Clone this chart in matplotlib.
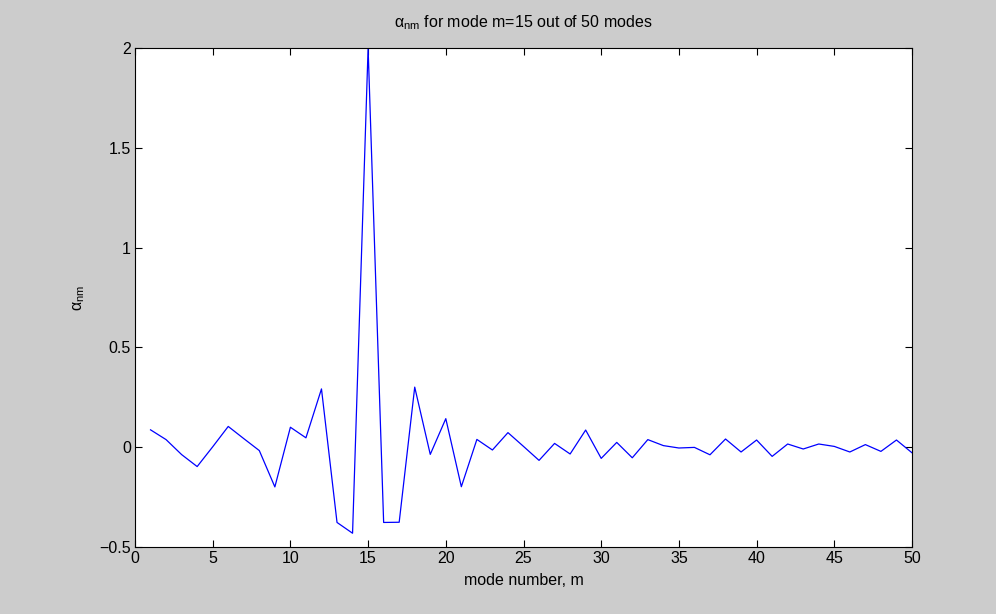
import matplotlib
matplotlib.use("Agg")
import matplotlib.pyplot as plt

modes = list(range(1, 51))
alpha = [0.087, 0.038, -0.037, -0.097, 0.002, 0.104, 0.043, -0.017, -0.199, 0.100,
         0.047, 0.292, -0.377, -0.431, 2.000, -0.377, -0.376, 0.301, -0.036, 0.143,
         -0.198, 0.039, -0.014, 0.073, 0.004, -0.066, 0.019, -0.034, 0.086, -0.056,
         0.024, -0.053, 0.038, 0.008, -0.004, -0.001, -0.038, 0.041, -0.024, 0.036,
         -0.046, 0.016, -0.009, 0.016, 0.004, -0.024, 0.013, -0.021, 0.036, -0.028]
xticks = [0, 5, 10, 15, 20, 25, 30, 35, 40, 45, 50]
yticks = [-0.5, 0, 0.5, 1, 1.5, 2]
ytick_labels = ["\u22120.5", "0", "0.5", "1", "1.5", "2"]

plt.rcParams['font.family'] = ['Liberation Sans', 'DejaVu Sans']
plt.rcParams['mathtext.fontset'] = 'custom'
plt.rcParams['mathtext.rm'] = 'Liberation Sans'
plt.rcParams['mathtext.it'] = 'Liberation Sans:italic'
plt.rcParams['mathtext.sf'] = 'Liberation Sans'

FS = 11.5

fig = plt.figure(figsize=(9.96, 6.14), dpi=100, facecolor='#cccccc')
ax = fig.add_axes([135/996, 1-547/614, (912-135)/996, (547-48)/614])
ax.set_facecolor('white')
ax.plot(modes, alpha, color='#0000ff', linewidth=0.9)
ax.set_xlim(0, 50)
ax.set_ylim(-0.5, 2)
ax.set_xticks(xticks)
ax.set_xticklabels([str(t) for t in xticks])
ax.set_yticks(yticks)
ax.set_yticklabels(ytick_labels)
ax.tick_params(direction='in', top=True, right=True, length=5, width=0.8,
               labelsize=FS, colors='black', pad=3)
for s in ax.spines.values():
    s.set_linewidth(0.8)
ax.set_title('\u03b1$_{\\mathrm{nm}}$ for mode m=15 out of 50 modes', fontsize=FS, pad=15)
ax.set_xlabel('mode number, m', fontsize=FS, labelpad=5)
ax.set_ylabel('\u03b1$_{\\mathrm{nm}}$', fontsize=FS, labelpad=9)
fig.savefig('out.png', dpi=100, facecolor=fig.get_facecolor())
